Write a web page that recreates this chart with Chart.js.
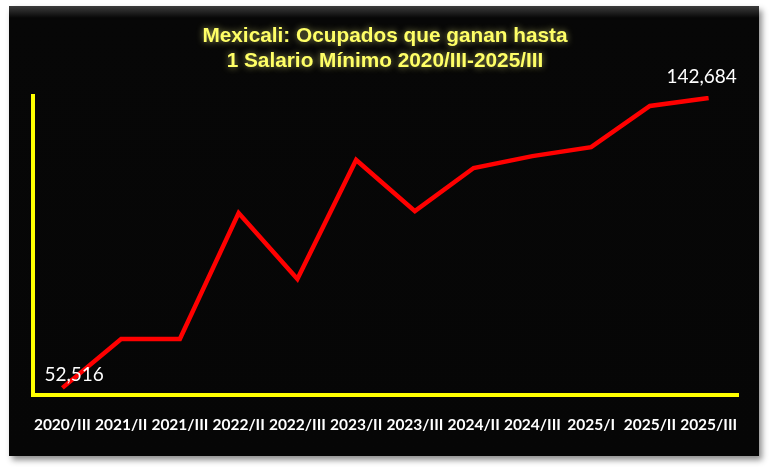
<!DOCTYPE html>
<html>
<head>
<meta charset="utf-8">
<script src="https://cdn.jsdelivr.net/npm/chart.js@4.4.1/dist/chart.umd.min.js"></script>
<style>
  html, body { margin: 0; padding: 0; background: #fff; }
  #wrap { position: relative; width: 770px; height: 470px; }
  #box {
    position: absolute; left: 9px; top: 6px; width: 750px; height: 450px;
    background: linear-gradient(#3c3c3c 0px, #070707 12px, #060606 100%);
    box-shadow: 3px 4px 6px rgba(0, 0, 0, 0.45);
  }
  canvas { position: absolute; left: 0; top: 0; }
</style>
</head>
<body>
<div id="wrap">
  <div id="box"></div>
  <canvas id="chart" width="770" height="470"></canvas>
</div>
<script>
// Datos
const periodos = ["2020/III", "2021/II", "2021/III", "2022/II", "2022/III", "2023/II",
  "2023/III", "2024/II", "2024/III", "2025/I", "2025/II", "2025/III"];
const ocupados = [52516, 67750, 67750, 106900, 86400, 123400,
  107500, 120900, 124600, 127400, 140200, 142684];
const titulo = ["Mexicali: Ocupados que ganan hasta", "1 Salario Mínimo 2020/III-2025/III"];

// Titulo con brillo
const tituloPlugin = {
  id: "tituloPlugin",
  afterDraw(chart) {
    const ctx = chart.ctx;
    ctx.save();
    ctx.font = "bold 20.8px 'Liberation Sans'";
    ctx.textAlign = "center";
    ctx.textBaseline = "alphabetic";
    ctx.fillStyle = "#ffff66";
    ctx.shadowColor = "rgba(255, 255, 140, 0.6)";
    ctx.shadowBlur = 7;
    ctx.fillText(titulo[0], 385, 42);
    ctx.fillText(titulo[1], 385, 67);
    ctx.restore();
  },
};

// Etiquetas del primer y ultimo valor
const etiquetasPlugin = {
  id: "etiquetasPlugin",
  afterDatasetsDraw(chart) {
    const ctx = chart.ctx;
    const puntos = chart.getDatasetMeta(0).data;
    const n = ocupados.length - 1;
    ctx.save();
    ctx.font = "19px Lato";
    ctx.fillStyle = "#ffffff";
    ctx.textBaseline = "middle";
    ctx.textAlign = "left";
    ctx.fillText(ocupados[0].toLocaleString("en-US"), puntos[0].x - 18, puntos[0].y - 13);
    ctx.textAlign = "center";
    ctx.fillText(ocupados[n].toLocaleString("en-US"), puntos[n].x - 7, puntos[n].y - 21);
    ctx.restore();
  },
};

new Chart(document.getElementById("chart"), {
  type: "line",
  data: {
    labels: periodos,
    datasets: [
      {
        data: ocupados,
        borderColor: "#ff0000",
        borderWidth: 4.5,
        pointRadius: 0,
        tension: 0,
        fill: false,
      },
    ],
  },
  options: {
    responsive: false,
    animation: false,
    layout: { padding: { left: 33, right: 32, top: 96, bottom: 25 } },
    plugins: {
      legend: { display: false },
      tooltip: { enabled: false },
    },
    scales: {
      x: {
        offset: true,
        grid: { display: false, drawTicks: false },
        border: { display: true, color: "#ffff00", width: 4 },
        ticks: {
          color: "#ffffff",
          font: { family: "Lato", size: 15.5, weight: "bold" },
          autoSkip: false,
          maxRotation: 0,
          padding: 21,
        },
        afterFit: (s) => { s.height = 50; },
      },
      y: {
        min: 50300,
        max: 143300,
        grid: { display: false, drawTicks: false },
        border: { display: true, color: "#ffff00", width: 4 },
        ticks: { display: false },
        afterFit: (s) => { s.width = 0; },
      },
    },
  },
  plugins: [tituloPlugin, etiquetasPlugin],
});
</script>
</body>
</html>
